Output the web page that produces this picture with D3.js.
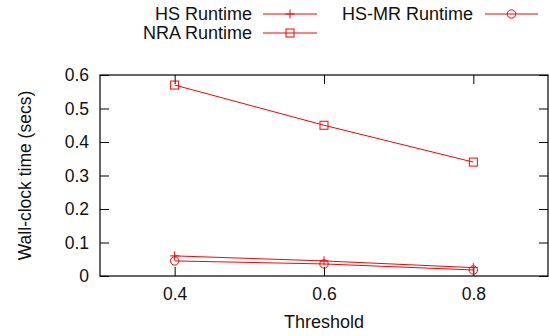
<!DOCTYPE html>
<html>
<head>
<meta charset="utf-8">
<script src="https://cdn.jsdelivr.net/npm/d3@7"></script>
<style>
body { margin: 0; background: #fff; }
text { font-family: "Liberation Sans", Arial, sans-serif; fill: #111; }
</style>
</head>
<body>
<div id="chart"></div>
<script>
var thresholds = [0.4, 0.6, 0.8];
var hsRuntime = [0.06, 0.045, 0.025];
var nraRuntime = [0.57, 0.45, 0.34];
var hsmrRuntime = [0.045, 0.036, 0.018];
var xTicks = [0.4, 0.6, 0.8];
var yTicks = [0, 0.1, 0.2, 0.3, 0.4, 0.5, 0.6];

var width = 549, height = 336;
var margin = {top: 75, right: 1, bottom: 60, left: 100};

var svg = d3.select("#chart").append("svg")
    .attr("width", width)
    .attr("height", height);

var xScale = d3.scaleLinear().domain([0.3, 0.9]).range([margin.left, width - margin.right]);
var yScale = d3.scaleLinear().domain([0, 0.6]).range([height - margin.bottom, margin.top]);

var tickLen = 9;

// ticks (inward, mirrored)
var axisG = svg.append("g");
axisG.append("g")
    .attr("transform", "translate(0," + yScale(0) + ")")
    .call(d3.axisBottom(xScale).tickValues(xTicks).tickSize(-tickLen).tickPadding(12).tickFormat(d3.format(".1f")));
axisG.append("g")
    .attr("transform", "translate(0," + yScale(0.6) + ")")
    .call(d3.axisTop(xScale).tickValues(xTicks).tickSize(-tickLen).tickFormat(""));
axisG.append("g")
    .attr("transform", "translate(" + xScale(0.3) + ",0)")
    .call(d3.axisLeft(yScale).tickValues(yTicks).tickSize(-tickLen).tickPadding(11)
        .tickFormat(function (d) { return d === 0 ? "0" : d3.format(".1f")(d); }));
axisG.append("g")
    .attr("transform", "translate(" + xScale(0.9) + ",0)")
    .call(d3.axisRight(yScale).tickValues(yTicks).tickSize(-tickLen).tickFormat(""));
axisG.selectAll(".domain").remove();
axisG.selectAll(".tick line").attr("stroke", "#000");
axisG.selectAll(".tick text").style("font-size", "17.5px").style("fill", "#111")
    .style("font-family", "'Liberation Sans', Arial, sans-serif");

svg.append("rect")
    .attr("x", xScale(0.3)).attr("y", yScale(0.6))
    .attr("width", xScale(0.9) - xScale(0.3))
    .attr("height", yScale(0) - yScale(0.6))
    .attr("fill", "none").attr("stroke", "#000").attr("stroke-width", 1.2);

var red = "#ff0000";

var series = [
    {name: "HS Runtime", values: hsRuntime, marker: "plus"},
    {name: "NRA Runtime", values: nraRuntime, marker: "square"},
    {name: "HS-MR Runtime", values: hsmrRuntime, marker: "circle"}
];

var lineFunction = d3.line()
    .x(function (d) { return xScale(d.x); })
    .y(function (d) { return yScale(d.y); });

function drawMarker(g, type, cx, cy) {
    if (type === "plus") {
        g.append("path")
            .attr("d", "M" + (cx - 4.5) + "," + cy + "H" + (cx + 4.5) + "M" + cx + "," + (cy - 4.5) + "V" + (cy + 4.5))
            .attr("stroke", red).attr("fill", "none").attr("stroke-width", 1);
    } else if (type === "square") {
        g.append("rect")
            .attr("x", cx - 4).attr("y", cy - 4).attr("width", 8).attr("height", 8)
            .attr("stroke", red).attr("fill", "none").attr("stroke-width", 1);
    } else {
        g.append("circle")
            .attr("cx", cx).attr("cy", cy).attr("r", 4.2)
            .attr("stroke", red).attr("fill", "none").attr("stroke-width", 1);
    }
}

series.forEach(function (s) {
    var pts = thresholds.map(function (t, i) { return {x: t, y: s.values[i]}; });
    var g = svg.append("g");
    g.append("path")
        .attr("d", lineFunction(pts))
        .attr("stroke", red).attr("fill", "none").attr("stroke-width", 1);
    pts.forEach(function (p) { drawMarker(g, s.marker, xScale(p.x), yScale(p.y)); });
});

// legend
var legendPos = [
    {textX: 252, lineX1: 263, lineX2: 317, y: 14},
    {textX: 252, lineX1: 263, lineX2: 317, y: 33},
    {textX: 473, lineX1: 485, lineX2: 538, y: 14}
];
series.forEach(function (s, i) {
    var p = legendPos[i];
    var g = svg.append("g");
    g.append("text")
        .attr("x", p.textX).attr("y", p.y)
        .attr("dy", "0.35em")
        .attr("text-anchor", "end")
        .style("font-size", "18px")
        .text(s.name);
    g.append("line")
        .attr("x1", p.lineX1).attr("x2", p.lineX2)
        .attr("y1", p.y).attr("y2", p.y)
        .attr("stroke", red).attr("stroke-width", 1);
    drawMarker(g, s.marker, (p.lineX1 + p.lineX2) / 2, p.y);
});

// axis labels
svg.append("text")
    .attr("x", xScale(0.6)).attr("y", 322)
    .attr("dy", "0.35em")
    .attr("text-anchor", "middle")
    .style("font-size", "18px")
    .text("Threshold");

svg.append("text")
    .attr("transform", "translate(25," + yScale(0.3) + ") rotate(-90)")
    .attr("dy", "0.35em")
    .attr("text-anchor", "middle")
    .style("font-size", "17.5px")
    .text("Wall-clock time (secs)");
</script>
</body>
</html>
